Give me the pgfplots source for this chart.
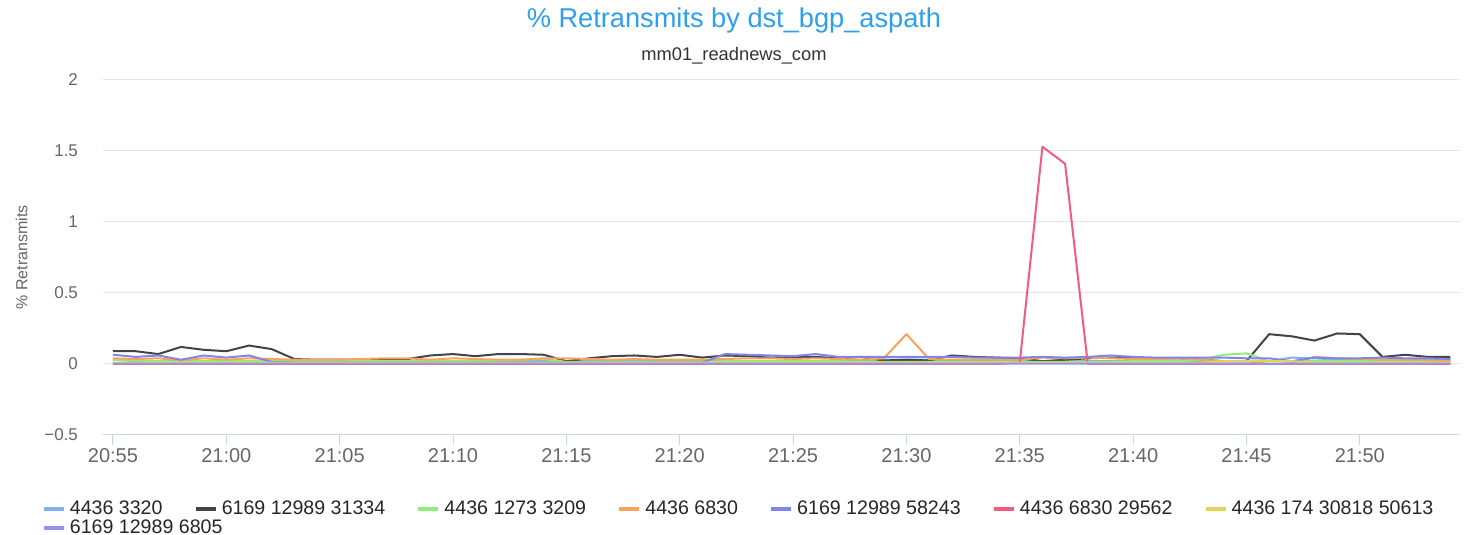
\documentclass[border=0pt]{standalone}
\usepackage{pgfplots}
\usepackage{pgfplotstable}
\pgfplotsset{compat=1.18}
\usepackage{fontspec}
\setmainfont{Liberation Sans}
\definecolor{cLB}{HTML}{7CB5EC}
\definecolor{cBK}{HTML}{434348}
\definecolor{cGR}{HTML}{90ED7D}
\definecolor{cOR}{HTML}{F7A35C}
\definecolor{cBL}{HTML}{8085E9}
\definecolor{cPK}{HTML}{F15C80}
\definecolor{cYE}{HTML}{E4D354}
\definecolor{cLV}{HTML}{9494EE}
\definecolor{cTitle}{HTML}{2E9FE8}
\definecolor{cGrid}{HTML}{E6E6E6}
\definecolor{cAxis}{HTML}{CCD6EB}
\definecolor{cLab}{HTML}{666666}

\pgfplotstableread{
x  lb    bk    gr    or    bl    pk   ye   lv
0  0.03  0.09  0.03  0.04  0.065 0    0.01 0.003
1  0.02  0.09  0.025 0.035 0.05  0    0.01 0.003
2  0.02  0.07  0.02  0.04  0.06  0    0.01 0.003
3  0.02  0.12  0.02  0.025 0.03  0    0.01 0.003
4  0.02  0.10  0.02  0.04  0.06  0    0.01 0.003
5  0.02  0.09  0.02  0.03  0.045 0    0.01 0.003
6  0.02  0.13  0.02  0.04  0.06  0    0.01 0.003
7  0.02  0.105 0.02  0.035 0.015 0    0.01 0.003
8  0.02  0.035 0.02  0.03  0.01  0    0.01 0.003
9  0.02  0.03  0.02  0.03  0.01  0    0.01 0.003
10 0.02  0.03  0.02  0.03  0.01  0    0.01 0.003
11 0.02  0.03  0.02  0.035 0.01  0    0.01 0.003
12 0.02  0.03  0.02  0.04  0.01  0    0.01 0.003
13 0.02  0.035 0.02  0.04  0.01  0    0.01 0.003
14 0.02  0.06  0.02  0.03  0.01  0    0.01 0.003
15 0.02  0.07  0.02  0.04  0.01  0    0.01 0.003
16 0.02  0.055 0.02  0.035 0.01  0    0.01 0.003
17 0.02  0.07  0.025 0.03  0.01  0    0.01 0.003
18 0.02  0.07  0.03  0.03  0.01  0    0.01 0.003
19 0.02  0.065 0.035 0.04  0.01  0    0.01 0.003
20 0.02  0.02  0.015 0.04  0.01  0    0.01 0.003
21 0.02  0.04  0.015 0.035 0.01  0    0.01 0.003
22 0.02  0.055 0.015 0.03  0.01  0    0.01 0.003
23 0.02  0.06  0.015 0.035 0.01  0    0.01 0.003
24 0.02  0.05  0.015 0.03  0.01  0    0.01 0.003
25 0.02  0.065 0.015 0.03  0.01  0    0.01 0.003
26 0.02  0.045 0.015 0.03  0.01  0    0.01 0.003
27 0.02  0.06  0.02  0.035 0.07  0    0.01 0.003
28 0.02  0.055 0.02  0.04  0.065 0    0.01 0.003
29 0.02  0.045 0.02  0.04  0.06  0    0.01 0.003
30 0.02  0.05  0.02  0.035 0.055 0    0.01 0.003
31 0.02  0.05  0.02  0.04  0.07  0    0.01 0.003
32 0.02  0.04  0.02  0.035 0.05  0    0.01 0.003
33 0.02  0.05  0.015 0.03  0.05  0    0.01 0.003
34 0.03  0.025 0.015 0.04  0.05  0    0.01 0.003
35 0.03  0.03  0.015 0.21  0.05  0    0.01 0.003
36 0.03  0.025 0.015 0.035 0.05  0    0.01 0.003
37 0.02  0.06  0.015 0.03  0.05  0    0.01 0.003
38 0.02  0.05  0.015 0.03  0.045 0    0.01 0.003
39 0.02  0.045 0.015 0.03  0.045 0    0.01 0.003
40 0.02  0.04  0.015 0.03  0.045 0.01 0.01 0.003
41 0.02  0.02  0.015 0.045 0.05  1.53 0.01 0.003
42 0.02  0.03  0.015 0.04  0.045 1.41 0.01 0.003
43 0.02  0.04  0.015 0.045 0.05  0    0.01 0.003
44 0.02  0.045 0.015 0.04  0.06  0    0.01 0.003
45 0.02  0.045 0.02  0.035 0.05  0    0.01 0.003
46 0.02  0.04  0.02  0.035 0.045 0    0.01 0.003
47 0.02  0.04  0.02  0.04  0.045 0    0.01 0.003
48 0.02  0.03  0.03  0.03  0.045 0    0.01 0.003
49 0.02  0.02  0.065 0.02  0.045 0    0.02 0.003
50 0.02  0.02  0.075 0.02  0.04  0    0.02 0.003
51 0.02  0.21  0.02  0.0   0.04  0    0.02 0.0
52 0.045 0.195 0.02  0.005 0.02  0    0.02 0.003
53 0.04  0.165 0.02  0.05  0.045 0    0.01 0.003
54 0.03  0.215 0.02  0.04  0.04  0    0.01 0.003
55 0.03  0.21  0.02  0.035 0.04  0    0.01 0.003
56 0.03  0.05  0.02  0.03  0.045 0    0.01 0.003
57 0.03  0.065 0.02  0.03  0.04  0    0.01 0.003
58 0.03  0.05  0.02  0.025 0.04  0    0.01 0.003
59 0.03  0.05  0.02  0.02  0.035 0    0.01 0.003
}\datatable

\begin{document}
\begin{tikzpicture}
\useasboundingbox (0,0) rectangle (734pt,267.5pt);
\begin{axis}[
  at={(51.5pt,50pt)}, anchor=south west,
  scale only axis, width=678.5pt, height=177.5pt,
  xmin=-0.44, xmax=59.42, ymin=-0.5, ymax=2,
  axis lines*=left,
  x axis line style={draw=cAxis, line width=0.5pt},
  y axis line style={draw=none},
  ymajorgrids, grid style={cGrid, line width=0.5pt},
  xtick={0,5,...,55},
  xticklabels={20:55,21:00,21:05,21:10,21:15,21:20,21:25,21:30,21:35,21:40,21:45,21:50},
  ytick={-0.5,0,0.5,1,1.5,2},
  yticklabels={−0.5,0,0.5,1,1.5,2},
  x tick style={draw=cAxis, line width=0.5pt},
  tick align=outside, major tick length=5pt,
  y tick style={draw=none},
  yticklabel style={font=\fontsize{8.5}{10}\selectfont, text=cLab, xshift=-4pt},
  xticklabel style={font=\fontsize{10}{12}\selectfont, text=cLab, yshift=2pt},
  ylabel={\% Retransmits},
  ylabel style={at={(axis description cs:-0.06,0.5)}, anchor=center, font=\fontsize{8}{10}\selectfont, text=cLab},
  every axis plot/.append style={line width=1pt, line join=round},
  legend image code/.code={\draw[#1, line width=2pt] (0pt,0pt) -- (10pt,0pt);},
  legend columns=7,
  legend style={draw=none, fill=none, inner sep=0pt, outer sep=0pt,
    at={(axis description cs:-0.045,-0.175)}, anchor=north west,
    font=\fontsize{9.8}{11}\selectfont, text=black!85,
    /tikz/every even column/.append style={column sep=13.6pt},
    row sep=-3pt},
]
\addplot[cLB] table[x=x,y=lb] {\datatable};
\addlegendentry{4436 3320}
\addplot[cBK] table[x=x,y=bk] {\datatable};
\addlegendentry{6169 12989 31334}
\addplot[cGR] table[x=x,y=gr] {\datatable};
\addlegendentry{4436 1273 3209}
\addplot[cOR] table[x=x,y=or] {\datatable};
\addlegendentry{4436 6830}
\addplot[cBL] table[x=x,y=bl] {\datatable};
\addlegendentry{6169 12989 58243}
\addplot[cPK] table[x=x,y=pk] {\datatable};
\addlegendentry{4436 6830 29562}
\addplot[cYE] table[x=x,y=ye] {\datatable};
\addlegendentry{4436 174 30818 50613}
\addplot[cLV] table[x=x,y=lv] {\datatable};
\addlegendentry{\rlap{6169 12989 6805}\phantom{4436 3320}}
\end{axis}
\node[font=\fontsize{13.6}{16}\selectfont, text=cTitle] at (367pt,257.5pt) {\% Retransmits by dst\_bgp\_aspath};
\node[font=\fontsize{9.15}{11}\selectfont, text=black!80] at (367pt,239.5pt) {mm01\_readnews\_com};
\end{tikzpicture}
\end{document}
